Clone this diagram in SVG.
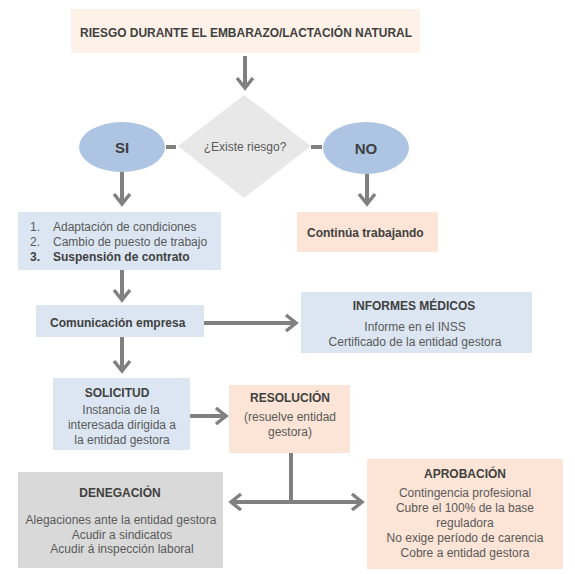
<svg xmlns="http://www.w3.org/2000/svg" width="575" height="574" viewBox="0 0 575 574">
<defs>
<style>
text{font-family:"Liberation Sans","DejaVu Sans",sans-serif;font-size:12px;fill:#595959;}
.b{font-weight:bold;fill:#404040;}
.c{text-anchor:middle;}
.ln{stroke:#808080;stroke-width:4;fill:none;}
.peach{fill:#fce4d6;}
.blue{fill:#dce6f2;}
</style>
<marker id="ah" markerUnits="userSpaceOnUse" markerWidth="20" markerHeight="20" refX="12" refY="10" orient="auto-start-reverse" viewBox="0 0 20 20">
<polyline points="2,2 12,10 2,18" fill="none" stroke="#808080" stroke-width="3.5"/>
</marker>
</defs>
<rect width="575" height="574" fill="#ffffff"/>
<g id="connectors">
<line class="ln" x1="245" y1="56" x2="245" y2="88" marker-end="url(#ah)"/>
<line class="ln" x1="166" y1="147" x2="176" y2="147"/>
<line class="ln" x1="311" y1="147" x2="322" y2="147"/>
<line class="ln" x1="122" y1="172" x2="122" y2="204" marker-end="url(#ah)"/>
<line class="ln" x1="367" y1="173" x2="367" y2="204" marker-end="url(#ah)"/>
<line class="ln" x1="122" y1="270" x2="122" y2="300" marker-end="url(#ah)"/>
<line class="ln" x1="204" y1="323" x2="296" y2="323" marker-end="url(#ah)"/>
<line class="ln" x1="122" y1="337" x2="122" y2="371" marker-end="url(#ah)"/>
<line class="ln" x1="190" y1="416" x2="226" y2="416" marker-end="url(#ah)"/>
<line class="ln" x1="291" y1="453" x2="291" y2="502"/>
<line class="ln" x1="231" y1="502" x2="362" y2="502" marker-start="url(#ah)" marker-end="url(#ah)"/>
</g>
<g id="n-top">
<rect x="71" y="9" width="349" height="44" fill="#fdf1e8"/>
<text class="b c" x="246" y="37" style="font-size:12.5px" textLength="332" lengthAdjust="spacingAndGlyphs">RIESGO DURANTE EL EMBARAZO/LACTACIÓN  NATURAL</text>
</g>
<g id="n-diamond">
<polygon points="244,95 311,146 244,198 178,146" fill="#e8e8e8"/>
<text class="c" x="245" y="151">¿Existe riesgo?</text>
</g>
<g id="n-si">
<ellipse cx="122" cy="147" rx="43" ry="25" fill="#adc4e3"/>
<text class="b c" x="122" y="153" style="font-size:15px">SI</text>
</g>
<g id="n-no">
<ellipse cx="366" cy="148" rx="43" ry="26" fill="#adc4e3"/>
<text class="b c" x="366" y="154" style="font-size:15px">NO</text>
</g>
<g id="n-list">
<rect class="blue" x="18" y="212" width="203" height="58"/>
<text x="30" y="231">1.</text>
<text x="53" y="231">Adaptación de condiciones</text>
<text x="30" y="246">2.</text>
<text x="53" y="246">Cambio de puesto de trabajo</text>
<text class="b" x="30" y="261">3.</text>
<text class="b" x="53" y="261">Suspensión de contrato</text>
</g>
<g id="n-continua">
<rect class="peach" x="297" y="212" width="141" height="40"/>
<text class="b" x="307" y="237">Continúa trabajando</text>
</g>
<g id="n-comunicacion">
<rect class="blue" x="36" y="305" width="168" height="32"/>
<text class="b" x="50" y="327">Comunicación empresa</text>
</g>
<g id="n-informes">
<rect class="blue" x="301" y="292" width="231" height="61"/>
<text class="b c" x="414" y="310">INFORMES MÉDICOS</text>
<text class="c" x="415" y="331">Informe  en el INSS</text>
<text class="c" x="415" y="346">Certificado de la entidad gestora</text>
</g>
<g id="n-solicitud">
<rect class="blue" x="53" y="378" width="137" height="72"/>
<text class="b c" x="117" y="397">SOLICITUD</text>
<text class="c" x="121" y="414">Instancia de la</text>
<text class="c" x="122" y="429">interesada dirigida a</text>
<text class="c" x="122" y="444">la entidad gestora</text>
</g>
<g id="n-resolucion">
<rect class="peach" x="229" y="385" width="121" height="68"/>
<text class="b c" x="290" y="402">RESOLUCIÓN</text>
<text class="c" x="290" y="421">(resuelve entidad</text>
<text class="c" x="290" y="436">gestora)</text>
</g>
<g id="n-denegacion">
<rect x="18" y="472" width="205" height="96" fill="#d9d9d9"/>
<text class="b c" x="120" y="497">DENEGACIÓN</text>
<text class="c" x="121" y="524">Alegaciones ante la entidad gestora</text>
<text class="c" x="122" y="539">Acudir a sindicatos</text>
<text class="c" x="122" y="553">Acudir á inspección laboral</text>
</g>
<g id="n-aprobacion">
<rect class="peach" x="367" y="459" width="196" height="110"/>
<text class="b c" x="465" y="478">APROBACIÓN</text>
<text class="c" x="465" y="497">Contingencia profesional</text>
<text class="c" x="465" y="512">Cubre el 100% de la base</text>
<text class="c" x="465" y="527">reguladora</text>
<text class="c" x="465" y="542">No exige período de carencia</text>
<text class="c" x="465" y="557">Cobre a entidad gestora</text>
</g>
</svg>
